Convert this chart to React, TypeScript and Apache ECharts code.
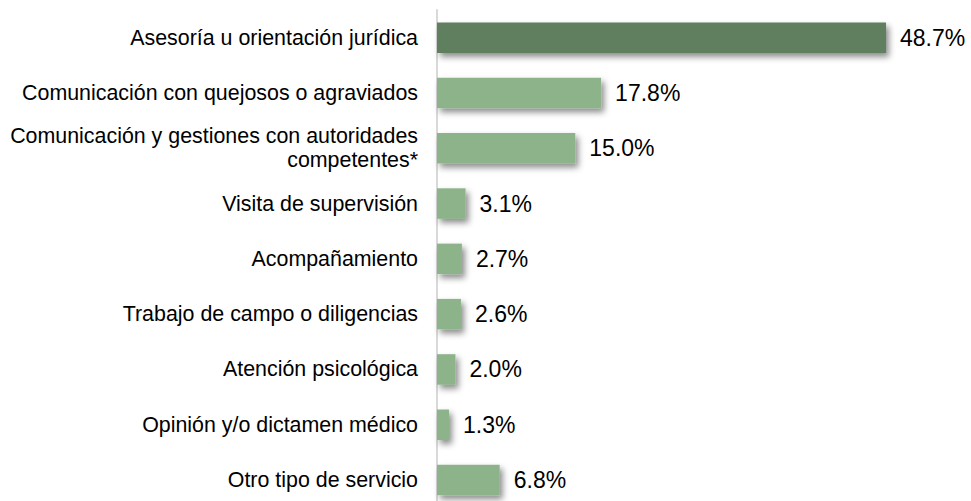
import React, { useEffect, useRef } from "react";
import * as echarts from "echarts";

const categories = [
  "Asesoría u orientación jurídica",
  "Comunicación con quejosos o agraviados",
  "Comunicación y gestiones con autoridades\ncompetentes*",
  "Visita de supervisión",
  "Acompañamiento",
  "Trabajo de campo o diligencias",
  "Atención psicológica",
  "Opinión y/o dictamen médico",
  "Otro tipo de servicio",
];
const values = [48.7, 17.8, 15.0, 3.1, 2.7, 2.6, 2.0, 1.3, 6.8];
const highlightIndex = 0;

export default function App() {
  const ref = useRef<HTMLDivElement>(null);
  useEffect(() => {
    if (!ref.current) return;
    const chart = echarts.init(ref.current, null, { renderer: "svg" });
    chart.setOption({
      animation: false,
      grid: { left: 437, top: 10, width: 461, height: 497.7, containLabel: false },
      xAxis: {
        type: "value",
        min: 0,
        max: 50,
        show: false,
      },
      yAxis: {
        type: "category",
        data: categories,
        inverse: true,
        axisLine: { show: true, lineStyle: { color: "#d9d9d9", width: 2 } },
        axisTick: { show: false },
        axisLabel: {
          margin: 19,
          color: "#000",
          fontFamily: "Liberation Sans, Arial, sans-serif",
          fontSize: 21.4,
          align: "right",
          lineHeight: 24,
        },
      },
      series: [
        {
          type: "bar",
          data: values.map((v, i) => ({
            value: v,
            itemStyle: { color: i === highlightIndex ? "#5f7f5f" : "#8db38a" },
          })),
          barWidth: 30.5,
          itemStyle: {
            shadowColor: "rgba(0,0,0,0.45)",
            shadowBlur: 6,
            shadowOffsetX: 3,
            shadowOffsetY: 4,
          },
          label: {
            show: true,
            position: "right",
            distance: 14,
            formatter: (p: any) => p.value.toFixed(1) + "%",
            color: "#000",
            fontFamily: "Liberation Sans, Arial, sans-serif",
            fontSize: 23,
          },
        },
      ],
    });
    return () => chart.dispose();
  }, []);
  return (
    <div
      style={{
        position: "fixed",
        left: 0,
        top: 0,
        width: 971,
        height: 501,
        overflow: "hidden",
        background: "#fff",
      }}
    >
      <div ref={ref} style={{ width: 971, height: 530 }} />
    </div>
  );
}
